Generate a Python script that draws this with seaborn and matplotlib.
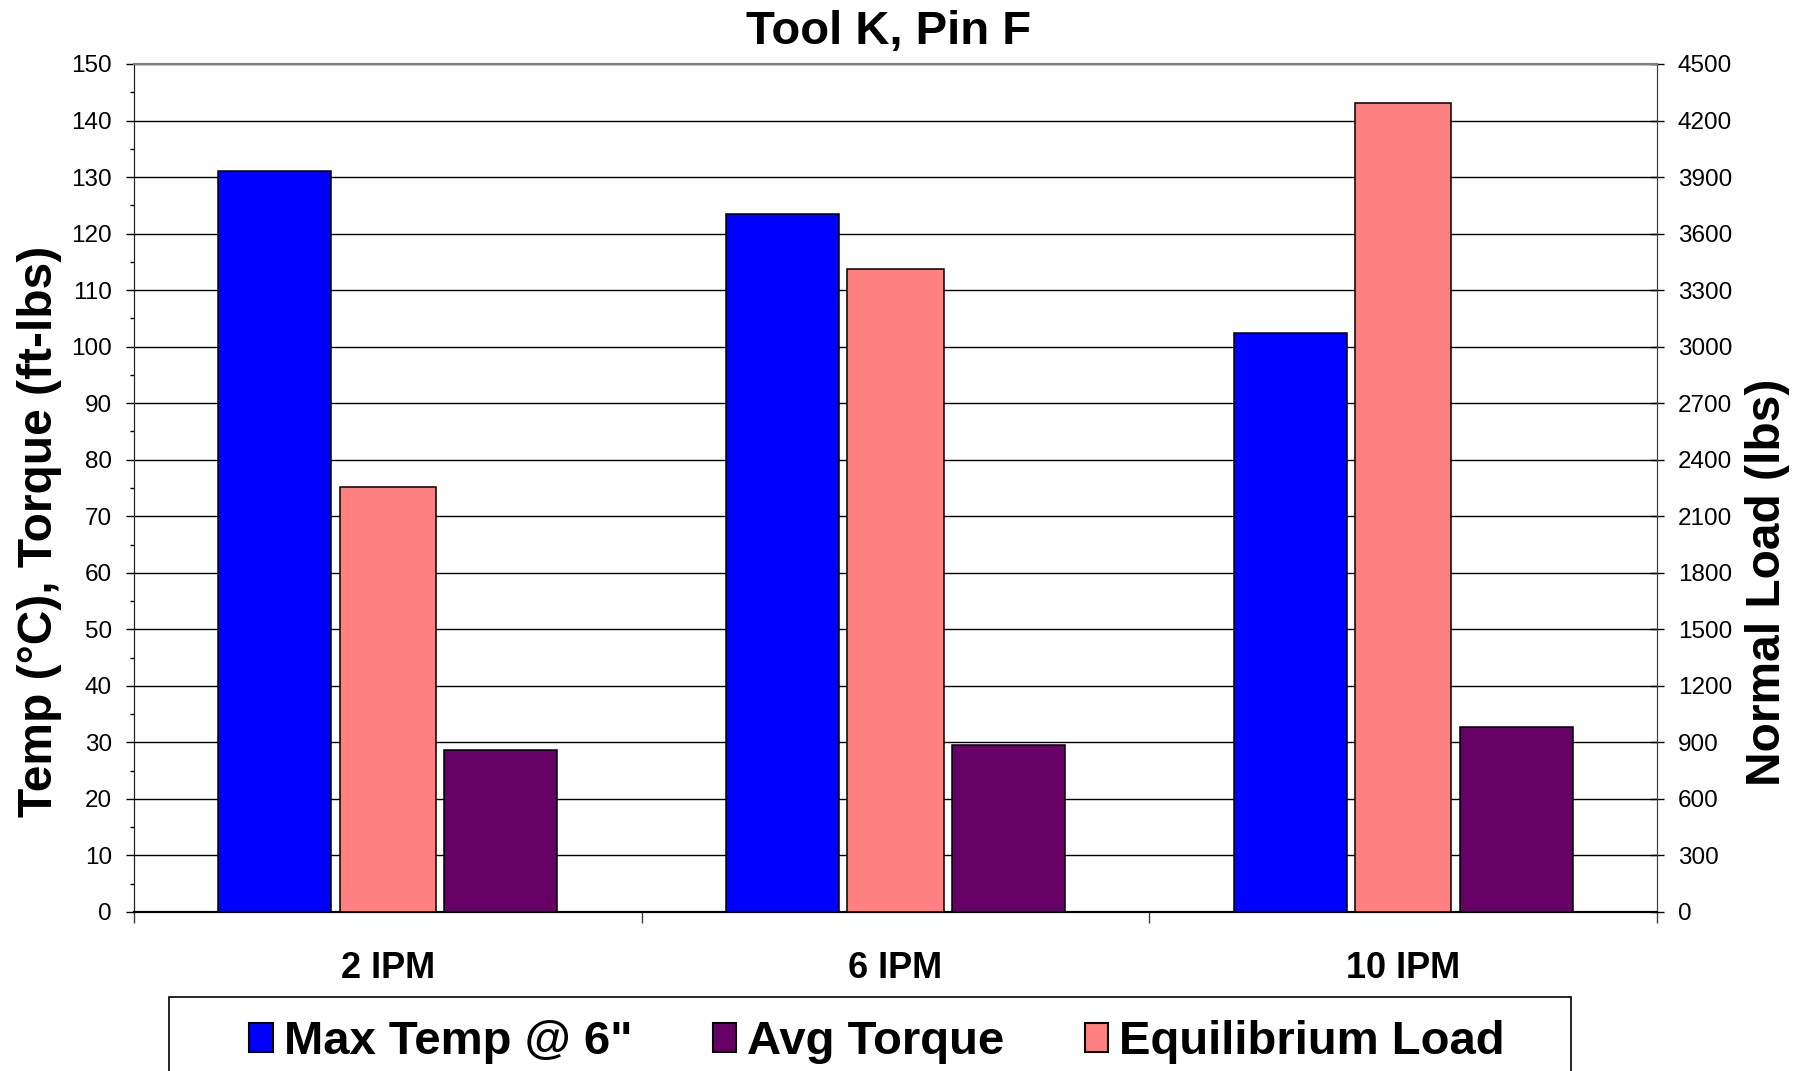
import matplotlib
matplotlib.use('Agg')
import matplotlib.pyplot as plt
import seaborn as sns
import pandas as pd
from matplotlib.patches import Patch, Rectangle
from matplotlib.ticker import MultipleLocator, FixedLocator

# values
speeds = ['2 IPM', '6 IPM', '10 IPM']
max_temp = [131.1, 123.5, 102.4]      # deg C, left axis
avg_torque = [28.7, 29.5, 32.7]       # ft-lbs, left axis
eq_load = [2255, 3410, 4295]          # lbs, right axis

temp_name = 'Max Temp @ 6"'
torque_name = 'Avg Torque'
load_name = 'Equilibrium Load'
colors = {temp_name: '#0000FF', torque_name: '#660066', load_name: '#FF8080'}

plt.rcParams['font.family'] = ['Liberation Sans', 'DejaVu Sans']


def main():
    prim = pd.DataFrame({
        'speed': speeds * 2,
        'series': [temp_name] * 3 + [torque_name] * 3,
        'value': max_temp + avg_torque,
    })
    load = pd.DataFrame({'speed': speeds, 'value': eq_load})

    fig = plt.figure(figsize=(17.99, 10.71), dpi=100)
    W, H = 1799, 1071
    ax = fig.add_axes([134 / W, 1 - 912 / H, 1523 / W, 848 / H])
    ax2 = ax.twinx()

    sns.barplot(data=prim, x='speed', y='value', hue='series', order=speeds,
                hue_order=[temp_name, torque_name], palette=colors,
                width=0.89, gap=0.5, saturation=1, edgecolor='black',
                linewidth=1.1, legend=False, ax=ax, zorder=3)
    sns.barplot(data=load, x='speed', y='value', order=speeds,
                color=colors[load_name], width=0.19, saturation=1,
                edgecolor='black', linewidth=1.1, ax=ax2, zorder=3)

    ax.set_xlim(-0.5, 2.5)
    ax.set_ylim(0, 150)
    ax2.set_ylim(0, 4500)
    ax.yaxis.set_major_locator(MultipleLocator(10))
    ax.yaxis.set_minor_locator(MultipleLocator(5))
    ax2.yaxis.set_major_locator(MultipleLocator(300))
    ax.grid(axis='y', color='black', linewidth=1.0, zorder=0)
    ax.set_axisbelow(True)

    # category separators on the x axis
    ax.xaxis.set_minor_locator(FixedLocator([-0.5, 0.5, 1.5, 2.5]))
    ax.tick_params(axis='x', which='major', length=0, pad=28,
                   labelsize=26)
    ax.tick_params(axis='x', which='minor', length=8, width=1.0,
                   color='#404040')
    for lbl in ax.get_xticklabels():
        lbl.set_fontweight('bold')

    ax.tick_params(axis='y', which='major', length=6, width=1.0,
                   labelsize=17.5, pad=10)
    ax.tick_params(axis='y', which='minor', length=3, width=1.0)
    ax2.tick_params(axis='y', which='major', direction='inout', length=10,
                    width=1.0, labelsize=17.5, pad=10)

    ax.set_xlabel('')
    ax.set_ylabel('Temp (°C), Torque (ft-lbs)', fontsize=34.5,
                  fontweight='bold')
    ax.yaxis.set_label_coords(-0.047, 0.449)
    ax2.set_ylabel('Normal Load (lbs)', fontsize=34.5, fontweight='bold',
                   rotation=90)
    ax2.yaxis.set_label_coords(1.058, 0.389)

    for a in (ax, ax2):
        a.spines['top'].set_color('#808080')
        a.spines['top'].set_linewidth(1.5)
        a.spines['left'].set_color('#202020')
        a.spines['right'].set_color('#404040')
        a.spines['bottom'].set_color('black')
        a.spines['bottom'].set_linewidth(1.5)

    fig.text(889 / W, 1 - 32 / H, 'Tool K, Pin F', ha='center',
             va='center', fontsize=34, fontweight='bold')

    # legend frame runs off the bottom of the figure
    fig.patches.append(Rectangle((169 / W, -0.02), (1571 - 169) / W,
                                 0.02 + 1 - 997 / H, transform=fig.transFigure,
                                 facecolor='white', edgecolor='black',
                                 linewidth=1.2))
    handles = [Patch(facecolor=colors[n], edgecolor='black', linewidth=1.5)
               for n in (temp_name, torque_name, load_name)]
    fig.legend(handles, [temp_name, torque_name, load_name], ncol=3,
               loc='center', bbox_to_anchor=(877 / W, 1 - 1042 / H),
               prop={'size': 34, 'weight': 'bold'}, frameon=False,
               handlelength=0.5, handleheight=0.55, handletextpad=0.23,
               columnspacing=1.7, borderpad=0, borderaxespad=0)

    fig.savefig('out.png', dpi=100)


main()
